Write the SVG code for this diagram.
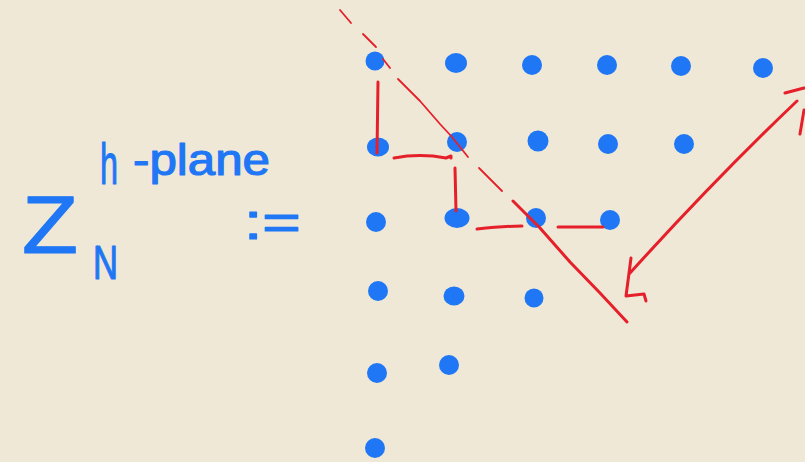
<svg xmlns="http://www.w3.org/2000/svg" width="805" height="462" viewBox="0 0 805 462">
<style>
.hand{font-family:"Liberation Sans","DejaVu Sans",sans-serif;fill:#1F77F5;stroke:#1F77F5;stroke-width:1.2;stroke-linejoin:round}
.dot{fill:#1F77F5}
.red{fill:none;stroke:#E5202A;stroke-linecap:round;stroke-linejoin:round}
.thin{stroke-width:1.8}
.thick{stroke-width:3}
</style>
<rect width="805" height="462" fill="#F0E8D6"/>
<g id="label">
<text class="hand" x="22" y="253" font-size="82" textLength="56" lengthAdjust="spacingAndGlyphs">Z</text>
<text class="hand" x="93" y="279" font-size="48" textLength="25" lengthAdjust="spacingAndGlyphs">N</text>
<text class="hand"><tspan x="100" y="184" font-size="58" textLength="18" lengthAdjust="spacingAndGlyphs">h</tspan><tspan x="133" y="175" font-size="44" textLength="137" lengthAdjust="spacingAndGlyphs">-plane</tspan></text>
<text class="hand" x="244" y="239" font-size="50" textLength="57" lengthAdjust="spacingAndGlyphs">:=</text>
</g>
<g id="lattice">
<circle class="dot" cx="375" cy="61" r="9.5"/>
<ellipse class="dot" cx="456" cy="63" rx="11" ry="10"/>
<circle class="dot" cx="532" cy="65" r="10"/>
<circle class="dot" cx="607" cy="65" r="10"/>
<circle class="dot" cx="681" cy="66" r="10"/>
<circle class="dot" cx="763" cy="68" r="10"/>
<ellipse class="dot" cx="378" cy="147" rx="11" ry="9.5"/>
<circle class="dot" cx="457" cy="142" r="10"/>
<circle class="dot" cx="538" cy="141" r="10.5"/>
<circle class="dot" cx="608" cy="144" r="10"/>
<circle class="dot" cx="684" cy="144" r="10"/>
<circle class="dot" cx="376" cy="222" r="10"/>
<ellipse class="dot" cx="457" cy="218" rx="12.5" ry="10"/>
<circle class="dot" cx="536" cy="218" r="10"/>
<circle class="dot" cx="610" cy="220" r="10"/>
<circle class="dot" cx="378" cy="291" r="10"/>
<ellipse class="dot" cx="454" cy="296" rx="10.5" ry="9.5"/>
<circle class="dot" cx="534" cy="298" r="9.5"/>
<circle class="dot" cx="377" cy="373" r="10"/>
<circle class="dot" cx="449" cy="365" r="10"/>
<circle class="dot" cx="375" cy="448" r="10"/>
</g>
<g id="connectors">
<path class="red thin" d="M340,10 L351,23 M363,34 L376,47 M383,59 L390,68 M398,79 L420,101 L440,124 L452,137 L468,157 M479,168 L502,191"/>
<path class="red thick" d="M513,201 L540,228 L570,262 L600,293 L627,322"/>
<path class="red thick" d="M378,82 L377,153"/>
<path class="red thick" d="M394,158 C410,155 430,155 446,158 L451,156 L451,158"/>
<path class="red thick" d="M455,168 L456,211"/>
<path class="red thick" d="M477,229 C495,227 510,226 522,226"/>
<path class="red thick" d="M558,227 L603,227"/>
<path class="red thick" d="M797,101 Q716,178 630,273"/>
<path class="red thick" d="M785,93 L804,88"/>
<path class="red thick" d="M800,134 L804,110"/>
<path class="red thick" d="M631,258 L626,296 L644,294 L646,301"/>
</g>
</svg>
